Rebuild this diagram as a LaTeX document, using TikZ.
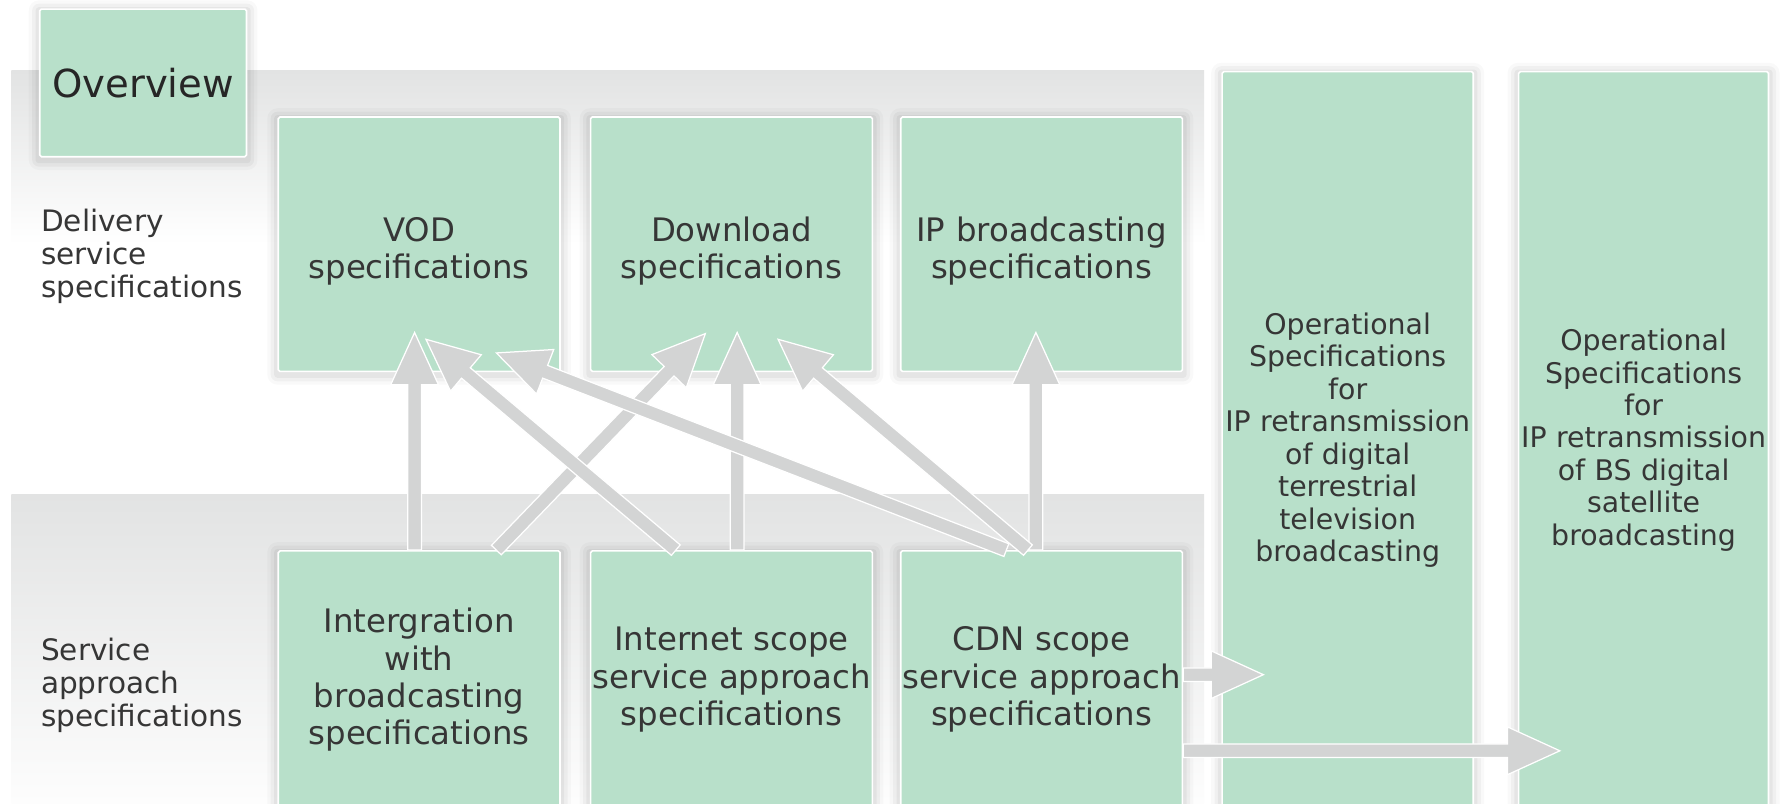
\documentclass[tikz,border=0pt]{standalone}
\usepackage{fontspec}
\setmainfont{DejaVu Sans}
\usetikzlibrary{calc}
\definecolor{boxgreen}{HTML}{B8E0CA}
\definecolor{arrowgray}{HTML}{D3D4D4}
\definecolor{bandgray}{HTML}{E2E3E3}
\definecolor{txt}{HTML}{363636}
\pgfdeclarelayer{bg}
\pgfdeclarelayer{sh}
\pgfsetlayers{bg,sh,main}
\tikzset{
  specbox/.style={draw=white, line width=1.4pt, fill=boxgreen, rounded corners=1.5pt,
    inner sep=1pt, align=center, text=txt, font=\fontsize{28.5}{33}\selectfont},
  topbox/.style={specbox, minimum width=248pt, minimum height=224pt, text width=246pt,
    execute at begin node={\rule{0pt}{34pt}}},
  lowbox/.style={specbox, minimum width=248pt, minimum height=227pt, text width=246pt},
  sidelabel/.style={anchor=west, align=left, inner sep=0pt, text=txt,
    font=\fontsize{26}{29}\selectfont},
  fatarrowstyle/.style={fill=arrowgray, draw=white, line width=1.1pt, line join=miter},
}
\newcommand\fatarrow[2]{%
  \filldraw[fatarrowstyle] let \p1=(#1), \p2=(#2),
    \n1={atan2(\y2-\y1,\x2-\x1)}, \n2={veclen(\x2-\x1,\y2-\y1)} in
    [shift={(\p1)}, rotate=\n1]
    (0pt,-6pt) -- ({\n2-46pt},-6pt) -- ({\n2-46pt},-21pt) -- (\n2,0pt)
    -- ({\n2-46pt},21pt) -- ({\n2-46pt},6pt) -- (0pt,6pt) -- cycle;}
\begin{document}
\begin{tikzpicture}[x=1pt,y=-1pt]
\useasboundingbox (0,0) rectangle (1568,707);
\begin{pgfonlayer}{bg}
  \fill[white] (0,0) rectangle (1568,707);
  \shade[top color=bandgray, bottom color=white] (10,62) rectangle (1060,215);
  \shade[top color=bandgray, bottom color=white!93!bandgray] (10,435) rectangle (1060,707);
\end{pgfonlayer}

% boxes
\node[specbox, minimum width=182pt, minimum height=130pt, text width=180pt,
      text=black!85, font=\fontsize{34}{40}\selectfont] (ov) at (126,73) {Overview};
\node[topbox] (vod) at (369,215) {VOD\\specifications};
\node[topbox] (dl) at (644,215) {Download\\specifications};
\node[topbox] (ipb) at (917,215) {IP broadcasting\\specifications};
\node[lowbox] (integ) at (369,598.5) {Intergration\\with\\broadcasting\\specifications};
\node[lowbox] (inet) at (644,598.5) {Internet scope\\service approach\\specifications};
\node[lowbox] (cdn) at (917,598.5) {CDN scope\\service approach\\specifications};
\node[specbox, minimum width=221pt, minimum height=649pt, text width=219pt,
      font=\fontsize{25}{28.6}\selectfont] (op1) at (1186.5,387.5)
  {Operational\\Specifications\\for\\IP retransmission\\of digital\\terrestrial\\television\\broadcasting};
\node[specbox, minimum width=220pt, minimum height=649pt, text width=218pt,
      font=\fontsize{25}{28.6}\selectfont] (op2) at (1447,387.5)
  {Operational\\Specifications\\for\\IP retransmission\\of BS digital\\satellite\\broadcasting};

% side labels
\node[sidelabel] (dlab) at (36,226) {Delivery\\service\\specifications};
\node[sidelabel] (slab) at (36,603) {Service\\approach\\specifications};

% soft shadows
\begin{pgfonlayer}{sh}
  \foreach \n in {ov,vod,dl,ipb,integ,inet,cdn,op1,op2}{
    \foreach \e/\o in {9/0.025,6/0.035,3/0.045}{
      \fill[black,opacity=\o,rounded corners=\e*1pt]
        ([shift={(-\e*1pt,\e*1pt-2pt)}]\n.north west) rectangle
        ([shift={(\e*1pt,-\e*1pt-2pt)}]\n.south east);
    }
  }
\end{pgfonlayer}

% connector end points
\coordinate (a1s) at ([xshift=-4pt]integ.north);
\coordinate (a1e) at ([xshift=-4pt,yshift=35pt]vod.south);
\coordinate (a2s) at ([xshift=68pt]integ.north);
\coordinate (a2e) at ([xshift=-23pt,yshift=34pt]dl.south);
\coordinate (a3s) at ([xshift=-49pt]inet.north);
\coordinate (a3e) at ([xshift=6pt,yshift=29pt]vod.south);
\coordinate (a4s) at ([xshift=5pt]inet.north);
\coordinate (a4e) at ([xshift=5pt,yshift=35pt]dl.south);
\coordinate (a5s) at ([xshift=-31pt]cdn.north);
\coordinate (a5e) at ([xshift=68pt,yshift=17pt]vod.south);
\coordinate (a6s) at ([xshift=-12pt]cdn.north);
\coordinate (a6e) at ([xshift=41pt,yshift=29pt]dl.south);
\coordinate (a7s) at ([xshift=-5pt]cdn.north);
\coordinate (a7e) at ([xshift=-5pt,yshift=35pt]ipb.south);
\coordinate (a8s) at ([yshift=4.5pt]cdn.east);
\coordinate (a8e) at ([xshift=37pt]op1.west |- a8s);
\coordinate (a9s) at ([yshift=-62.5pt]cdn.east);
\coordinate (a9e) at ([xshift=37pt]op2.west |- a9s);

% connectors
\fatarrow{a1s}{a1e}
\fatarrow{a4s}{a4e}
\fatarrow{a7s}{a7e}
\fatarrow{a2s}{a2e}
\fatarrow{a3s}{a3e}
\fatarrow{a6s}{a6e}
\fatarrow{a5s}{a5e}
\fatarrow{a8s}{a8e}
\fatarrow{a9s}{a9e}
\end{tikzpicture}
\end{document}
